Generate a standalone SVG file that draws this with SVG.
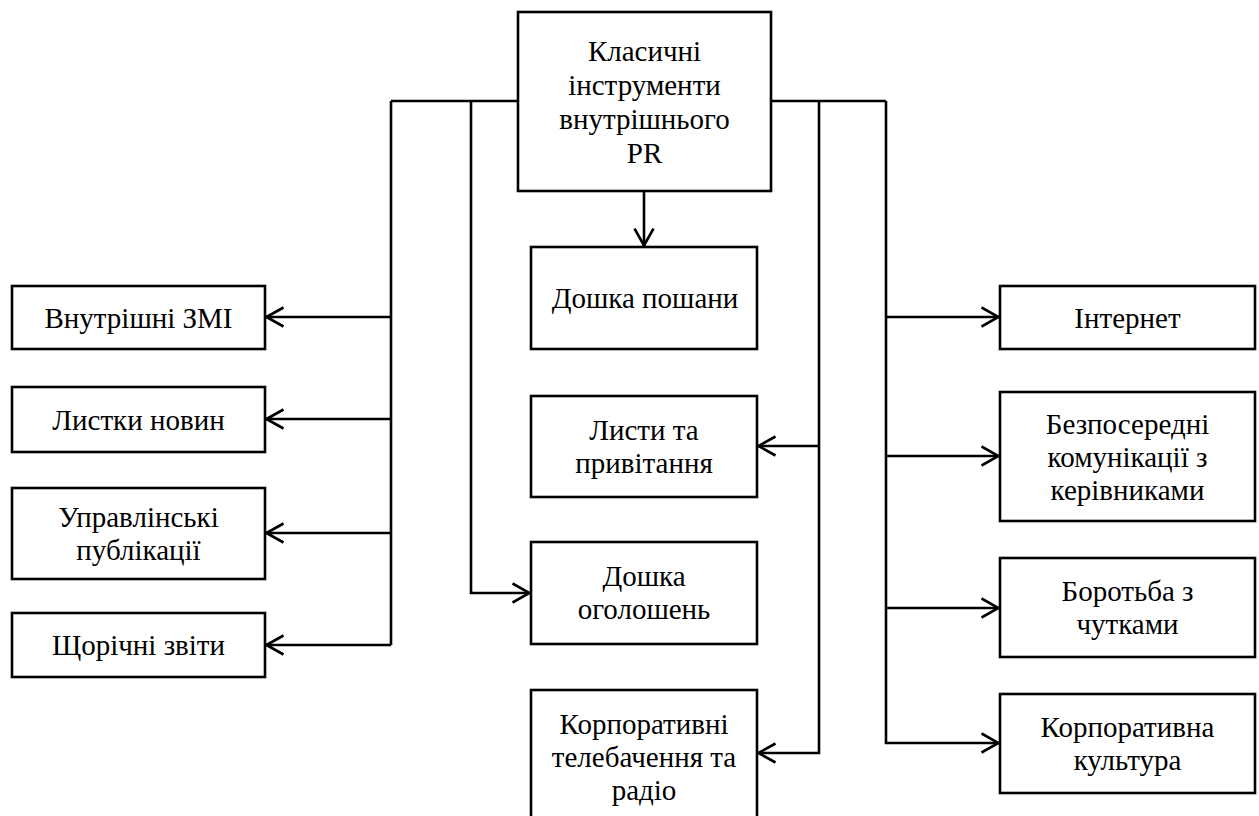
<svg xmlns="http://www.w3.org/2000/svg" width="1259" height="816" viewBox="0 0 1259 816">
<style>
.box{fill:#fff;stroke:#000;stroke-width:2.6}
.t{font-family:'Liberation Serif','Times New Roman',serif;font-size:29px;fill:#000;text-anchor:middle}
.c{fill:none;stroke:#000;stroke-width:2.6}
</style>
<defs>
<marker id="arr" markerUnits="userSpaceOnUse" viewBox="0 0 20 22" refX="18.5" refY="11" markerWidth="20" markerHeight="22" orient="auto">
<path d="M1,1.5 L18,11 L1,20.5" fill="none" stroke="#000" stroke-width="2.6"/>
</marker>
</defs>
<rect width="1259" height="816" fill="#fff"/>
<g id="connectors">
<path class="c" d="M391,101 H518 M771,101 H886"/>
<path class="c" d="M391,101 V645"/>
<path class="c" d="M391,317 H266" marker-end="url(#arr)"/>
<path class="c" d="M391,419 H266" marker-end="url(#arr)"/>
<path class="c" d="M391,533 H266" marker-end="url(#arr)"/>
<path class="c" d="M391,645 H266" marker-end="url(#arr)"/>
<path class="c" d="M471,101 V593 H530" marker-end="url(#arr)"/>
<path class="c" d="M644,191 V246" marker-end="url(#arr)"/>
<path class="c" d="M819,101 V753 H758" marker-end="url(#arr)"/>
<path class="c" d="M819,446 H758" marker-end="url(#arr)"/>
<path class="c" d="M886,101 V743 H999" marker-end="url(#arr)"/>
<path class="c" d="M886,317 H999" marker-end="url(#arr)"/>
<path class="c" d="M886,456 H999" marker-end="url(#arr)"/>
<path class="c" d="M886,608 H999" marker-end="url(#arr)"/>
</g>
<g id="root">
<rect class="box" x="518" y="12" width="253" height="179"/>
<text class="t" x="644.5" y="61">Класичні</text>
<text class="t" x="644.5" y="95">інструменти</text>
<text class="t" x="644.5" y="129">внутрішнього</text>
<text class="t" x="644.5" y="163">PR</text>
</g>
<g id="vnutrishni-zmi">
<rect class="box" x="12" y="286" width="253" height="63"/>
<text class="t" x="138.5" y="328">Внутрішні ЗМІ</text>
</g>
<g id="lystky-novyn">
<rect class="box" x="12" y="387" width="253" height="65"/>
<text class="t" x="138.5" y="430">Листки новин</text>
</g>
<g id="upravlinski">
<rect class="box" x="12" y="488" width="253" height="91"/>
<text class="t" x="138.5" y="527">Управлінські</text>
<text class="t" x="138.5" y="560">публікації</text>
</g>
<g id="shchorichni">
<rect class="box" x="12" y="613" width="253" height="64"/>
<text class="t" x="138.5" y="655">Щорічні звіти</text>
</g>
<g id="doshka-poshany">
<rect class="box" x="531" y="247" width="226" height="102"/>
<text class="t" x="645" y="308">Дошка пошани</text>
</g>
<g id="lysty">
<rect class="box" x="531" y="396" width="226" height="101"/>
<text class="t" x="644" y="440">Листи та</text>
<text class="t" x="644" y="473">привітання</text>
</g>
<g id="doshka-ogoloshen">
<rect class="box" x="531" y="542" width="226" height="102"/>
<text class="t" x="644" y="586">Дошка</text>
<text class="t" x="644" y="619">оголошень</text>
</g>
<g id="korp-tb">
<rect class="box" x="531" y="690" width="226" height="140"/>
<text class="t" x="644" y="734">Корпоративні</text>
<text class="t" x="644" y="767">телебачення та</text>
<text class="t" x="644" y="800">радіо</text>
</g>
<g id="internet">
<rect class="box" x="1000" y="286" width="255" height="63"/>
<text class="t" x="1127.5" y="328">Інтернет</text>
</g>
<g id="bezposeredni">
<rect class="box" x="1000" y="392" width="255" height="129"/>
<text class="t" x="1127.5" y="433.5">Безпосередні</text>
<text class="t" x="1127.5" y="466.5">комунікації з</text>
<text class="t" x="1127.5" y="499.5">керівниками</text>
</g>
<g id="borotba">
<rect class="box" x="1000" y="558" width="255" height="99"/>
<text class="t" x="1127.5" y="601">Боротьба з</text>
<text class="t" x="1127.5" y="634">чутками</text>
</g>
<g id="korp-kultura">
<rect class="box" x="1000" y="694" width="255" height="99"/>
<text class="t" x="1127.5" y="737">Корпоративна</text>
<text class="t" x="1127.5" y="770">культура</text>
</g>
</svg>
